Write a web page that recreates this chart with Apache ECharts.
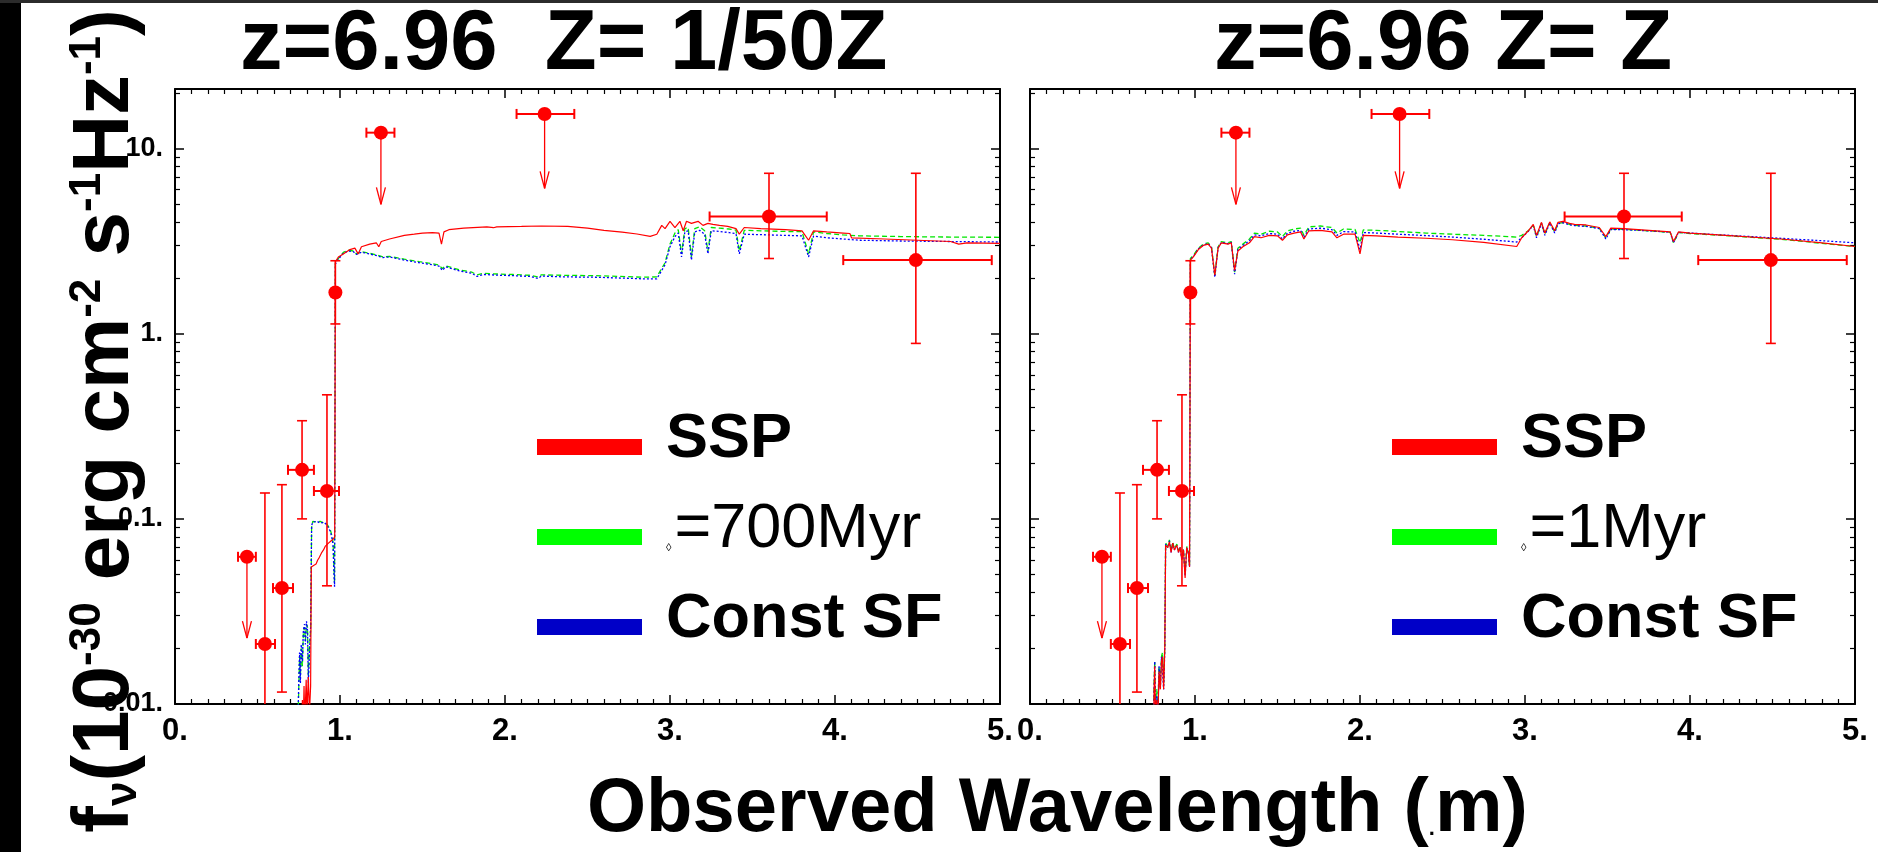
<!DOCTYPE html>
<html><head><meta charset="utf-8">
<script src="https://cdn.jsdelivr.net/npm/echarts@6/dist/echarts.min.js"></script>
<style>html,body{margin:0;padding:0;background:#fff}#c{width:1878px;height:852px}</style>
</head><body><div id="c"></div><script>
// ---------- data ----------
const panelTitles = ['z=6.96  Z= 1/50Z', 'z=6.96 Z= Z'];
const xTickLabels = ['0', '1', '2', '3', '4', '5'];
const yTickLabels = ['0.01', '0.1', '1', '10'];
const yMinorTicks = [0.02,0.03,0.04,0.05,0.06,0.07,0.08,0.09,0.2,0.3,0.4,0.5,0.6,0.7,0.8,0.9,2,3,4,5,6,7,8,9,20];
const namesLeft = ['SSP', 'τ=700Myr', 'Const SF'];
const namesRight = ['SSP', 'τ=1Myr', 'Const SF'];

// photometry (observed wavelength in micron, flux)
const obsWave   = [0.436, 0.545, 0.648, 0.770, 0.921, 0.972, 1.248, 2.240, 3.600, 4.490];
const obsFlux   = [0.0624, 0.0211, 0.0423, 0.184, 0.1415, 1.67, 12.2, 15.4, 4.3, 2.5];
const obsWaveLo = [0.382, 0.490, 0.594, 0.685, 0.842, '-', 1.160, 2.070, 3.240, 4.050];
const obsWaveHi = [0.490, 0.606, 0.715, 0.842, 0.994, '-', 1.330, 2.420, 3.950, 4.950];
const obsFluxLo = ['-', 0.01, 0.0116, 0.100, 0.0435, 1.13, '-', '-', 2.55, 0.887];
const obsFluxHi = ['-', 0.138, 0.153, 0.339, 0.468, 2.48, '-', '-', 7.36, 7.36];
const obsLimitTo = [0.0227, '-', '-', '-', '-', '-', 5.0, 6.1, '-', '-'];

// model spectra, left panel (Z = 1/50 Zsun)
const lowZ_SSP = [[0.765,0.006],[0.772,0.0105],[0.776,0.007],[0.782,0.0125],[0.787,0.008],[0.795,0.0135],[0.8,0.009],[0.808,0.014],[0.815,0.009],[0.822,0.0125],[0.826,0.055],[0.84,0.056],[0.855,0.057],[0.865,0.06],[0.875,0.062],[0.89,0.066],[0.9,0.068],[0.91,0.071],[0.93,0.074],[0.945,0.076],[0.96,0.078],[0.968,0.08],[0.972,2.45],[0.99,2.6],[1.02,2.7],[1.06,2.85],[1.09,2.9],[1.11,2.7],[1.13,2.95],[1.18,3.05],[1.22,3.1],[1.235,2.95],[1.25,3.15],[1.3,3.25],[1.39,3.4],[1.45,3.45],[1.5,3.5],[1.56,3.52],[1.6,3.5],[1.615,3.05],[1.63,3.55],[1.66,3.65],[1.75,3.72],[1.89,3.78],[1.93,3.74],[1.95,3.78],[2.1,3.8],[2.22,3.82],[2.38,3.8],[2.5,3.72],[2.6,3.62],[2.71,3.54],[2.8,3.46],[2.88,3.36],[2.92,3.45],[2.95,3.85],[2.97,3.7],[3.0,4.05],[3.03,3.75],[3.06,4.05],[3.08,3.6],[3.1,4.05],[3.13,3.95],[3.17,4.05],[3.2,3.85],[3.23,3.95],[3.26,3.9],[3.3,3.85],[3.35,3.8],[3.4,3.7],[3.42,3.45],[3.45,3.75],[3.55,3.7],[3.7,3.65],[3.8,3.6],[3.84,3.2],[3.87,3.6],[3.95,3.55],[4.05,3.5],[4.09,3.48],[4.1,3.3],[4.3,3.25],[4.5,3.2],[4.7,3.15],[4.75,3.05],[4.8,3.1],[5.0,3.08]];
const lowZ_tau700 = [[0.745,0.008],[0.75,0.012],[0.755,0.018],[0.76,0.014],[0.765,0.02],[0.772,0.016],[0.778,0.024],[0.785,0.026],[0.79,0.022],[0.797,0.027],[0.803,0.026],[0.808,0.014],[0.815,0.02],[0.822,0.025],[0.828,0.09],[0.835,0.097],[0.86,0.096],[0.88,0.097],[0.9,0.095],[0.92,0.094],[0.94,0.088],[0.95,0.082],[0.958,0.075],[0.963,0.055],[0.967,0.045],[0.972,2.4],[0.99,2.55],[1.02,2.75],[1.05,2.83],[1.08,2.8],[1.1,2.7],[1.13,2.78],[1.18,2.72],[1.23,2.65],[1.26,2.6],[1.3,2.62],[1.39,2.53],[1.48,2.45],[1.56,2.39],[1.6,2.35],[1.62,2.25],[1.64,2.33],[1.72,2.22],[1.8,2.15],[1.83,2.08],[1.87,2.12],[1.97,2.1],[2.05,2.09],[2.15,2.07],[2.2,2.03],[2.22,2.08],[2.35,2.07],[2.55,2.06],[2.7,2.04],[2.84,2.02],[2.92,2.03],[2.97,2.42],[3.0,3.05],[3.03,3.5],[3.05,3.65],[3.07,2.7],[3.09,3.7],[3.11,3.75],[3.13,2.6],[3.15,3.7],[3.18,3.78],[3.21,3.6],[3.23,2.8],[3.25,3.75],[3.3,3.72],[3.36,3.68],[3.4,3.63],[3.42,2.8],[3.45,3.62],[3.55,3.6],[3.7,3.57],[3.8,3.56],[3.84,2.7],[3.87,3.55],[3.95,3.48],[4.05,3.42],[4.15,3.38],[4.4,3.35],[4.7,3.33],[5.0,3.32]];
const lowZ_const = [[0.745,0.008],[0.75,0.013],[0.755,0.019],[0.76,0.013],[0.765,0.021],[0.772,0.017],[0.778,0.025],[0.785,0.027],[0.79,0.021],[0.797,0.028],[0.803,0.025],[0.808,0.013],[0.815,0.019],[0.822,0.026],[0.828,0.092],[0.835,0.096],[0.86,0.097],[0.88,0.095],[0.9,0.096],[0.92,0.093],[0.94,0.086],[0.95,0.08],[0.958,0.072],[0.963,0.052],[0.967,0.043],[0.972,2.38],[0.99,2.53],[1.02,2.72],[1.05,2.8],[1.08,2.78],[1.1,2.68],[1.13,2.76],[1.18,2.7],[1.23,2.63],[1.26,2.58],[1.3,2.6],[1.39,2.5],[1.48,2.42],[1.56,2.36],[1.6,2.32],[1.62,2.2],[1.64,2.3],[1.72,2.19],[1.8,2.12],[1.83,2.04],[1.87,2.09],[1.97,2.07],[2.05,2.06],[2.15,2.04],[2.2,1.99],[2.22,2.05],[2.35,2.03],[2.55,2.02],[2.7,2.0],[2.84,1.98],[2.92,1.98],[2.97,2.36],[3.0,2.95],[3.03,3.35],[3.05,3.5],[3.07,2.6],[3.09,3.55],[3.11,3.6],[3.13,2.5],[3.15,3.55],[3.18,3.62],[3.21,3.45],[3.23,2.7],[3.25,3.6],[3.3,3.57],[3.36,3.52],[3.4,3.47],[3.42,2.7],[3.45,3.45],[3.55,3.43],[3.7,3.4],[3.8,3.38],[3.84,2.6],[3.87,3.37],[3.95,3.3],[4.05,3.25],[4.15,3.2],[4.4,3.17],[4.7,3.15],[5.0,3.13]];

// model spectra, right panel (Z = Zsun)
const solar_SSP = [[0.748,0.006],[0.752,0.012],[0.756,0.016],[0.76,0.009],[0.768,0.0105],[0.775,0.008],[0.782,0.015],[0.79,0.012],[0.797,0.017],[0.803,0.018],[0.81,0.012],[0.817,0.02],[0.822,0.072],[0.835,0.07],[0.845,0.075],[0.855,0.066],[0.865,0.074],[0.875,0.068],[0.89,0.072],[0.9,0.066],[0.91,0.07],[0.92,0.06],[0.93,0.068],[0.94,0.048],[0.95,0.07],[0.96,0.065],[0.967,0.055],[0.972,2.5],[0.99,2.6],[1.02,2.85],[1.05,3.0],[1.08,3.05],[1.1,2.9],[1.12,2.07],[1.14,2.9],[1.16,3.1],[1.2,3.05],[1.22,3.1],[1.24,2.2],[1.26,2.8],[1.29,2.95],[1.33,3.1],[1.36,3.35],[1.4,3.3],[1.45,3.4],[1.5,3.38],[1.53,3.2],[1.56,3.42],[1.6,3.5],[1.64,3.55],[1.66,3.25],[1.69,3.6],[1.76,3.62],[1.83,3.55],[1.86,3.3],[1.9,3.45],[1.97,3.45],[2.0,2.7],[2.02,3.4],[2.1,3.38],[2.23,3.33],[2.4,3.28],[2.56,3.22],[2.75,3.12],[2.95,2.96],[2.98,3.3],[3.02,3.6],[3.05,3.9],[3.07,3.4],[3.1,4.0],[3.12,3.5],[3.15,4.02],[3.18,3.6],[3.2,4.0],[3.23,4.05],[3.27,3.95],[3.3,3.9],[3.37,3.87],[3.45,3.75],[3.49,3.35],[3.52,3.72],[3.6,3.7],[3.75,3.62],[3.88,3.55],[3.9,3.15],[3.93,3.55],[4.0,3.5],[4.24,3.39],[4.57,3.24],[4.8,3.1],[5.0,2.96]];
const solar_tau1 = [[0.748,0.007],[0.752,0.013],[0.756,0.017],[0.76,0.01],[0.768,0.012],[0.775,0.009],[0.782,0.016],[0.79,0.013],[0.797,0.018],[0.803,0.019],[0.81,0.013],[0.817,0.021],[0.822,0.074],[0.835,0.071],[0.845,0.077],[0.855,0.067],[0.865,0.075],[0.875,0.069],[0.89,0.073],[0.9,0.067],[0.91,0.071],[0.92,0.061],[0.93,0.069],[0.94,0.05],[0.95,0.071],[0.96,0.066],[0.967,0.056],[0.972,2.55],[0.99,2.65],[1.02,2.9],[1.05,3.05],[1.08,3.1],[1.1,2.95],[1.12,2.05],[1.14,2.95],[1.16,3.15],[1.2,3.1],[1.22,3.15],[1.24,2.15],[1.26,2.9],[1.29,3.05],[1.33,3.25],[1.36,3.5],[1.4,3.45],[1.45,3.58],[1.5,3.55],[1.53,3.35],[1.56,3.6],[1.6,3.68],[1.64,3.72],[1.66,3.4],[1.69,3.78],[1.76,3.82],[1.83,3.75],[1.86,3.5],[1.9,3.68],[1.97,3.66],[2.0,3.1],[2.02,3.64],[2.1,3.62],[2.23,3.57],[2.4,3.5],[2.56,3.45],[2.75,3.4],[2.95,3.33],[2.98,3.4],[3.02,3.6],[3.05,3.85],[3.07,3.35],[3.1,3.95],[3.12,3.45],[3.15,3.97],[3.18,3.55],[3.2,3.95],[3.23,3.98],[3.27,3.9],[3.3,3.85],[3.37,3.82],[3.45,3.72],[3.49,3.3],[3.52,3.68],[3.6,3.66],[3.75,3.6],[3.88,3.53],[3.9,3.1],[3.93,3.52],[4.0,3.48],[4.24,3.38],[4.57,3.23],[4.8,3.08],[5.0,2.96]];
const solar_const = [[0.748,0.007],[0.752,0.012],[0.756,0.017],[0.76,0.01],[0.768,0.011],[0.775,0.009],[0.782,0.016],[0.79,0.012],[0.797,0.018],[0.803,0.018],[0.81,0.012],[0.817,0.02],[0.822,0.073],[0.835,0.07],[0.845,0.076],[0.855,0.066],[0.865,0.074],[0.875,0.068],[0.89,0.072],[0.9,0.066],[0.91,0.07],[0.92,0.06],[0.93,0.068],[0.94,0.049],[0.95,0.07],[0.96,0.065],[0.967,0.055],[0.972,2.52],[0.99,2.62],[1.02,2.87],[1.05,3.02],[1.08,3.07],[1.1,2.92],[1.12,2.02],[1.14,2.92],[1.16,3.12],[1.2,3.07],[1.22,3.12],[1.24,2.1],[1.26,2.85],[1.29,3.0],[1.33,3.18],[1.36,3.42],[1.4,3.38],[1.45,3.48],[1.5,3.45],[1.53,3.25],[1.56,3.5],[1.6,3.58],[1.64,3.62],[1.66,3.3],[1.69,3.68],[1.76,3.72],[1.83,3.65],[1.86,3.4],[1.9,3.56],[1.97,3.55],[2.0,2.85],[2.02,3.52],[2.1,3.5],[2.23,3.45],[2.4,3.39],[2.56,3.33],[2.75,3.24],[2.95,3.13],[2.98,3.3],[3.02,3.58],[3.05,3.85],[3.07,3.3],[3.1,3.95],[3.12,3.4],[3.15,3.97],[3.18,3.5],[3.2,3.93],[3.23,3.98],[3.27,3.88],[3.3,3.84],[3.37,3.8],[3.45,3.7],[3.49,3.25],[3.52,3.66],[3.6,3.65],[3.75,3.6],[3.88,3.54],[3.9,3.1],[3.93,3.53],[4.0,3.5],[4.24,3.4],[4.57,3.27],[4.8,3.18],[5.0,3.1]];

// ---------- chart ----------
const FONT = "'Liberation Sans', Arial, sans-serif";
const X_MIN = 0, X_MAX = 5, Y_MIN = 0.01, Y_MAX = 21;
const RED = '#ff0000', GREEN = '#00e600', BLUE = '#0000ff';
const rects = [
  {left: 175, top: 89, width: 825, height: 615},
  {left: 1030, top: 89, width: 825, height: 615}
];

const obsData = obsWave.map((w, i) => [w, obsFlux[i], obsWaveLo[i], obsWaveHi[i], obsFluxLo[i], obsFluxHi[i], obsLimitTo[i]]);

function renderObs(params, api) {
  const x = api.value(0), y = api.value(1);
  const xl = api.value(2), xh = api.value(3), yl = api.value(4), yh = api.value(5), lim = api.value(6);
  const c = api.coord([x, y]);
  const kids = [];
  const seg = (x1, y1, x2, y2, w) => kids.push({type: 'line', shape: {x1, y1, x2, y2}, style: {stroke: RED, lineWidth: w}});
  if (!isNaN(xl) && !isNaN(xh) && xh > xl) {
    const a = api.coord([xl, y]), b = api.coord([xh, y]);
    seg(a[0], a[1], b[0], b[1], 2);
    seg(a[0], a[1] - 5, a[0], a[1] + 5, 2);
    seg(b[0], b[1] - 5, b[0], b[1] + 5, 2);
  }
  if (!isNaN(yl) && !isNaN(yh)) {
    const lo = api.coord([x, yl]), hi = api.coord([x, yh]);
    seg(lo[0], lo[1], hi[0], hi[1], 1.6);
    seg(hi[0] - 5, hi[1], hi[0] + 5, hi[1], 1.6);
    if (yl > Y_MIN) seg(lo[0] - 5, lo[1], lo[0] + 5, lo[1], 1.6);
  }
  if (!isNaN(lim)) {
    const t = api.coord([x, lim]);
    seg(c[0], c[1], t[0], t[1], 1.3);
    seg(t[0] - 4.5, t[1] - 17, t[0], t[1], 1.3);
    seg(t[0] + 4.5, t[1] - 17, t[0], t[1], 1.3);
  }
  kids.push({type: 'circle', shape: {cx: c[0], cy: c[1], r: 7}, style: {fill: RED}});
  return {type: 'group', children: kids};
}

const axisLine = {show: true, onZero: false, lineStyle: {color: '#000', width: 2}};
function xAxisFor(gi, pos, labels) {
  return {
    type: 'value', gridIndex: gi, position: pos, min: X_MIN, max: X_MAX, interval: 1,
    axisLine: axisLine,
    axisTick: {show: true, inside: true, length: 9, lineStyle: {color: '#000', width: 1.5}},
    minorTick: {show: true, splitNumber: 10, length: 5, lineStyle: {color: '#000', width: 1.2}},
    splitLine: {show: false},
    axisLabel: {
      show: labels, margin: 12,
      fontSize: 31, fontWeight: 'bold', fontFamily: FONT, color: '#000',
      formatter: v => xTickLabels[Math.round(v)] + '.'
    }
  };
}
function yAxisMajor(gi, pos, labels) {
  return {
    type: 'log', logBase: 10, gridIndex: gi, position: pos, min: Y_MIN, max: Y_MAX,
    axisLine: axisLine,
    axisTick: {show: true, inside: true, length: 9, lineStyle: {color: '#000', width: 1.5}},
    splitLine: {show: false}, minorTick: {show: false},
    axisLabel: {
      show: labels, margin: 12, showMaxLabel: false,
      fontSize: 27, fontWeight: 'bold', fontFamily: FONT, color: '#000',
      formatter: v => yTickLabels[Math.round(Math.log10(v)) + 2] + '.'
    }
  };
}
function yAxisMinor(gi, pos) {
  return {
    type: 'value', gridIndex: gi, position: pos, min: Math.log10(Y_MIN), max: Math.log10(Y_MAX),
    axisLine: {show: false}, axisLabel: {show: false}, splitLine: {show: false},
    axisTick: {show: true, inside: true, length: 5, lineStyle: {color: '#000', width: 1.2},
      customValues: yMinorTicks.map(v => Math.log10(v))}
  };
}
function lineSeries(name, data, xi, yi, color, type, w, z) {
  return {type: 'line', name, data, xAxisIndex: xi, yAxisIndex: yi, showSymbol: false, symbol: 'none',
    animation: false, clip: true, z, itemStyle: {color},
    lineStyle: {color, width: w, type}};
}
function legendFor(left, names) {
  const colors = ['#ff0000', '#00ff00', '#0000c8'];
  return {
    left, top: 402, orient: 'vertical', padding: 0, itemGap: 0, itemWidth: 105, itemHeight: 16,
    icon: 'rect', selectedMode: false,
    data: names.map((n, i) => ({name: n, icon: 'rect', itemStyle: {color: colors[i], borderWidth: 0}, lineStyle: {width: 0}})),
    formatter: n => n.charAt(0) === 'τ' ? '{s|◊}{r|' + n.slice(1) + '}' : '{b|' + n + '}',
    textStyle: {
      padding: [0, 0, 14, 19], lineHeight: 76, color: '#000',
      rich: {
        b: {fontSize: 63, fontWeight: 'bold', fontFamily: FONT, lineHeight: 76, color: '#000'},
        r: {fontSize: 63, fontFamily: FONT, lineHeight: 76, color: '#000'},
        s: {fontSize: 11, fontFamily: FONT, lineHeight: 11, padding: [36, 3, 0, 0], color: '#000'}
      }
    }
  };
}

const option = {
  backgroundColor: '#fff',
  animation: false,
  title: [
    {text: panelTitles[0], left: 240, top: 3, padding: 0, textStyle: {fontSize: 85, fontWeight: 'bold', fontFamily: FONT, color: '#000'}},
    {text: panelTitles[1], left: 1214, top: 3, padding: 0, textStyle: {fontSize: 85, fontWeight: 'bold', fontFamily: FONT, color: '#000'}},
    {text: '{t|Observed Wavelength (}{d|.}{t|m)}', left: 587, top: 772, padding: 0,
      textStyle: {rich: {
        t: {fontSize: 76, fontWeight: 'bold', fontFamily: FONT, lineHeight: 76, color: '#000'},
        d: {fontSize: 22, fontFamily: FONT, color: '#000', padding: [38, 0, 0, 0]}
      }}}
  ],
  grid: [
    Object.assign({show: false}, rects[0]), Object.assign({show: false}, rects[1]),
    Object.assign({show: false}, rects[0]), Object.assign({show: false}, rects[1])
  ],
  xAxis: [
    xAxisFor(0, 'bottom', true), xAxisFor(0, 'top', false),
    xAxisFor(1, 'bottom', true), xAxisFor(1, 'top', false),
    {type: 'value', gridIndex: 2, min: X_MIN, max: X_MAX, show: false},
    {type: 'value', gridIndex: 3, min: X_MIN, max: X_MAX, show: false}
  ],
  yAxis: [
    yAxisMajor(0, 'left', true), yAxisMajor(0, 'right', false),
    yAxisMajor(1, 'left', false), yAxisMajor(1, 'right', false),
    yAxisMinor(2, 'left'), yAxisMinor(2, 'right'),
    yAxisMinor(3, 'left'), yAxisMinor(3, 'right')
  ],
  legend: [legendFor(537, namesLeft), legendFor(1392, namesRight)],
  graphic: [
    {type: 'rect', shape: {x: 0, y: 0, width: 21, height: 852}, style: {fill: '#000'}, z: 100},
    {type: 'rect', shape: {x: 0, y: 0, width: 1878, height: 3}, style: {fill: '#2b2b2b'}, z: 100},
    {type: 'text', x: 106, y: 421, rotation: Math.PI / 2, z: 100,
      style: {
        text: '{m|f}{sb|ν}{m|(10}{sp|-30}{m| erg cm}{sp|-2}{m| s}{sp|-1}{m|Hz}{sp|-1}{m|)}',
        align: 'center', verticalAlign: 'middle', fill: '#000',
        rich: {
          m: {fontSize: 80, fontWeight: 'bold', fontFamily: FONT, lineHeight: 80, fill: '#000'},
          sp: {fontSize: 44, fontWeight: 'bold', fontFamily: FONT, lineHeight: 44, verticalAlign: 'top', fill: '#000'},
          sb: {fontSize: 44, fontWeight: 'bold', fontFamily: FONT, lineHeight: 44, verticalAlign: 'bottom', fill: '#000'}
        }
      }}
  ],
  series: [
    lineSeries(namesLeft[1], lowZ_tau700, 0, 0, GREEN, [5, 3], 1.3, 2),
    lineSeries(namesLeft[2], lowZ_const, 0, 0, BLUE, [2, 2], 1.3, 3),
    lineSeries(namesLeft[0], lowZ_SSP, 0, 0, RED, 'solid', 1.2, 4),
    {type: 'custom', name: 'obsL', xAxisIndex: 0, yAxisIndex: 0, data: obsData, renderItem: renderObs,
      encode: {x: 0, y: 1}, clip: true, z: 5, animation: false},
    lineSeries(namesRight[1], solar_tau1, 2, 2, GREEN, [5, 3], 1.3, 2),
    lineSeries(namesRight[2], solar_const, 2, 2, BLUE, [2, 2], 1.3, 3),
    lineSeries(namesRight[0], solar_SSP, 2, 2, RED, 'solid', 1.2, 4),
    {type: 'custom', name: 'obsR', xAxisIndex: 2, yAxisIndex: 2, data: obsData, renderItem: renderObs,
      encode: {x: 0, y: 1}, clip: true, z: 5, animation: false}
  ]
};
const chart = echarts.init(document.getElementById('c'), null, {renderer: 'canvas'});
chart.setOption(option);
</script></body></html>
